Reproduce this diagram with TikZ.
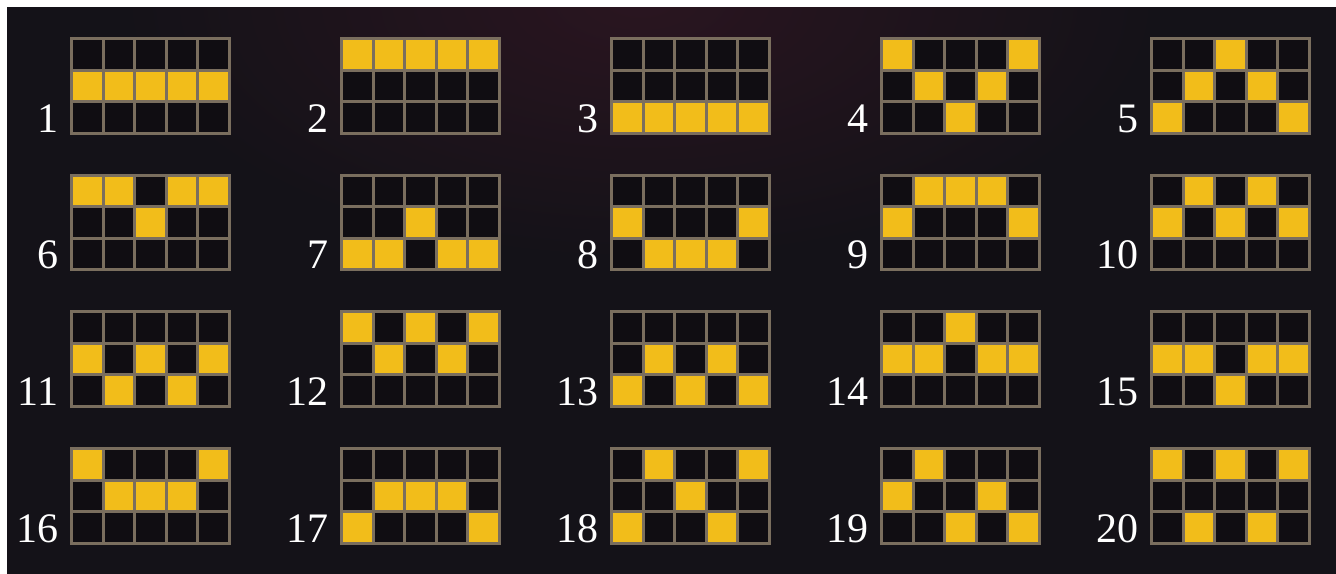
\documentclass[tikz,border=0pt]{standalone}
\usepackage{fontspec}
\setmainfont{Liberation Serif}
\definecolor{bg}{HTML}{141218}
\definecolor{glow}{HTML}{2A1520}
\definecolor{cellbg}{HTML}{100D12}
\definecolor{gold}{HTML}{F2BD1A}
\definecolor{gridc}{HTML}{7A6E5E}
\tikzset{
  gridline/.style={draw=gridc, line width=1.5pt, line cap=rect},
  numlbl/.style={anchor=base east, text=white, inner sep=0pt, font=\fontsize{21}{21}\selectfont},
}
\newcommand\payline[8]{%
  \pgfmathsetmacro\xo{71.5+270*#1}%
  \pgfmathsetmacro\yo{38.5+136.7*#2}%
  \fill[cellbg] (\xo,\yo) rectangle ++(158,94.5);
  \foreach \r [count=\k from 0] in {#4,#5,#6,#7,#8} {
    \fill[gold] ({\xo+\k*31.6},{\yo+\r*31.5}) rectangle ++(31.6,31.5);
  }
  \foreach \k in {0,...,5} {\draw[gridline] ({\xo+\k*31.6},\yo) -- ++(0,94.5);}
  \foreach \r in {0,...,3} {\draw[gridline] (\xo,{\yo+\r*31.5}) -- ++(158,0);}
  \node[numlbl] (n#3) at (\xo-13,\yo+93.5) {#3};
}
\begin{document}
\begin{tikzpicture}[x=0.5pt,y=-0.5pt]
\useasboundingbox (0,0) rectangle (1336,573);
\fill[white] (0,0) rectangle (1336,573);
\begin{scope}
  \clip (7,7) rectangle (1350,590);
  \fill[bg] (7,7) rectangle (1350,590);
  \shade[inner color=glow, outer color=bg] (640,0) ellipse (520 and 260);
\end{scope}
\payline{0}{0}{1}{1}{1}{1}{1}{1}
\payline{1}{0}{2}{0}{0}{0}{0}{0}
\payline{2}{0}{3}{2}{2}{2}{2}{2}
\payline{3}{0}{4}{0}{1}{2}{1}{0}
\payline{4}{0}{5}{2}{1}{0}{1}{2}
\payline{0}{1}{6}{0}{0}{1}{0}{0}
\payline{1}{1}{7}{2}{2}{1}{2}{2}
\payline{2}{1}{8}{1}{2}{2}{2}{1}
\payline{3}{1}{9}{1}{0}{0}{0}{1}
\payline{4}{1}{10}{1}{0}{1}{0}{1}
\payline{0}{2}{11}{1}{2}{1}{2}{1}
\payline{1}{2}{12}{0}{1}{0}{1}{0}
\payline{2}{2}{13}{2}{1}{2}{1}{2}
\payline{3}{2}{14}{1}{1}{0}{1}{1}
\payline{4}{2}{15}{1}{1}{2}{1}{1}
\payline{0}{3}{16}{0}{1}{1}{1}{0}
\payline{1}{3}{17}{2}{1}{1}{1}{2}
\payline{2}{3}{18}{2}{0}{1}{2}{0}
\payline{3}{3}{19}{1}{0}{2}{1}{2}
\payline{4}{3}{20}{0}{2}{0}{2}{0}
\end{tikzpicture}
\end{document}
